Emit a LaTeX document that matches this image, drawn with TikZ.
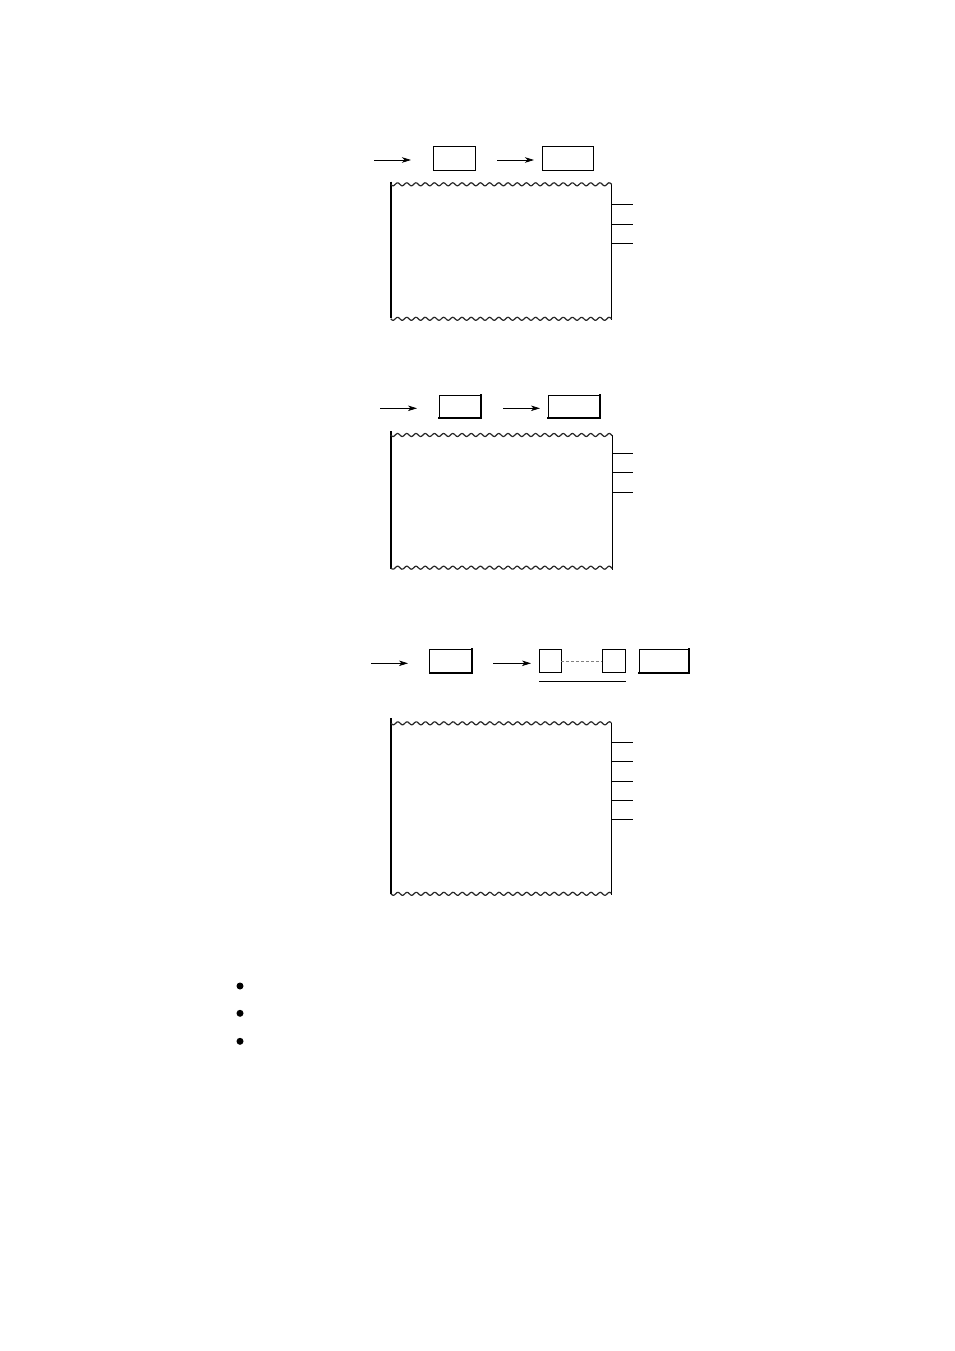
\documentclass[tikz,border=0pt]{standalone}
\usetikzlibrary{arrows.meta}
\begin{document}
\begin{tikzpicture}[x=1pt,y=-1pt,
  box/.style={draw,line width=0.8pt,inner sep=0pt,outer sep=0pt,rectangle},
  flow/.style={line width=0.8pt,-{Stealth[length=9pt,width=5.5pt,inset=2.5pt]}},
  keyshade/.style={line width=2pt,line cap=rect},
  edgeL/.style={line width=1.8pt},
  edgeR/.style={line width=0.8pt},
  tick/.style={line width=0.8pt},
  wave/.style={line width=1.2pt,black!85},
  dotline/.style={draw=gray,line width=0.7pt,dash pattern=on 3pt off 2pt}]
\useasboundingbox (0,0) rectangle (954,1351);
\fill[white] (0,0) rectangle (954,1351);

% ---------- section 1 ----------
\coordinate (a1s) at (374,160); \coordinate (a1e) at (411,160);
\coordinate (a2s) at (497,160); \coordinate (a2e) at (534,160);
\draw[flow] (a1s) -- (a1e);
\draw[flow] (a2s) -- (a2e);
\node[box,minimum width=42pt,minimum height=24pt] (b1a) at (454.3,158.2) {};
\node[box,minimum width=51pt,minimum height=24pt] (b1b) at (567.8,158.2) {};
% paper 1
\draw[edgeL] (390.7,181.7) -- (390.7,318);
\draw[edgeR] (611.7,184.5) -- (611.7,319.5);
\draw[wave] plot[domain=0:221,samples=240] ({390.7+\x},{184.3+1.5*sin(39.13*\x)});
\draw[wave] plot[domain=0:221,samples=240] ({390.7+\x},{318.8+1.5*sin(39.13*\x)});
\foreach \yy in {204.7,224.3,243.3} \draw[tick] (611.7,\yy) -- (633.3,\yy);

% ---------- section 2 ----------
\coordinate (c1s) at (380,408.3); \coordinate (c1e) at (417,408.3);
\coordinate (c2s) at (503.3,408.3); \coordinate (c2e) at (540,408.3);
\draw[flow] (c1s) -- (c1e);
\draw[flow] (c2s) -- (c2e);
\node[box,minimum width=41.7pt,minimum height=23.3pt] (b2a) at (460.2,406.7) {};
\node[box,minimum width=51.7pt,minimum height=23.3pt] (b2b) at (574.2,406.7) {};
\begin{scope}[xshift=0.8pt,yshift=-0.8pt]
\draw[keyshade] (b2a.north east) -- (b2a.south east) -- (b2a.south west);
\draw[keyshade] (b2b.north east) -- (b2b.south east) -- (b2b.south west);
\end{scope}
% paper 2
\draw[edgeL] (390.7,431) -- (390.7,569);
\draw[edgeR] (612.3,435) -- (612.3,570);
\draw[wave] plot[domain=0:221.6,samples=240] ({390.7+\x},{435+1.5*sin(39.13*\x)});
\draw[wave] plot[domain=0:221.6,samples=240] ({390.7+\x},{567.7+1.5*sin(39.13*\x)});
\foreach \yy in {453.3,472.3,492.3} \draw[tick] (612.3,\yy) -- (633.3,\yy);

% ---------- section 3 ----------
\coordinate (d1s) at (371,663.3); \coordinate (d1e) at (408,663.3);
\coordinate (d2s) at (493.3,663.3); \coordinate (d2e) at (531,663.3);
\draw[flow] (d1s) -- (d1e);
\draw[flow] (d2s) -- (d2e);
\node[box,minimum width=42pt,minimum height=23.4pt] (b3a) at (450.7,661) {};
\node[box,minimum width=22.3pt,minimum height=23.4pt] (s3a) at (550.2,661) {};
\node[box,minimum width=23.4pt,minimum height=23.4pt] (s3b) at (614,661) {};
\node[box,minimum width=50pt,minimum height=23.4pt] (b3c) at (664.3,661) {};
\begin{scope}[xshift=0.8pt,yshift=-0.8pt]
\draw[keyshade] (b3a.north east) -- (b3a.south east) -- (b3a.south west);
\draw[keyshade] (b3c.north east) -- (b3c.south east) -- (b3c.south west);
\end{scope}
\draw[dotline] (s3a.east) -- (s3b.west);
\coordinate (u3s) at (539,681); \coordinate (u3e) at (625.7,681);
\draw[line width=0.8pt] (u3s) -- (u3e);
% paper 3
\draw[edgeL] (391,718.3) -- (391,893.5);
\draw[edgeR] (611.3,723.3) -- (611.3,894.5);
\draw[wave] plot[domain=0:220.3,samples=240] ({391+\x},{723.3+1.5*sin(39.13*\x)});
\draw[wave] plot[domain=0:220.3,samples=240] ({391+\x},{893.8+1.5*sin(39.13*\x)});
\foreach \yy in {742.3,761.3,781,800,819} \draw[tick] (611.3,\yy) -- (632.7,\yy);

% ---------- bullets ----------
\foreach \yy [count=\i] in {986,1013.3,1041.3}
  \node[circle,fill=black,inner sep=0pt,minimum size=7pt] (dot\i) at (240,\yy) {};
\end{tikzpicture}
\end{document}
